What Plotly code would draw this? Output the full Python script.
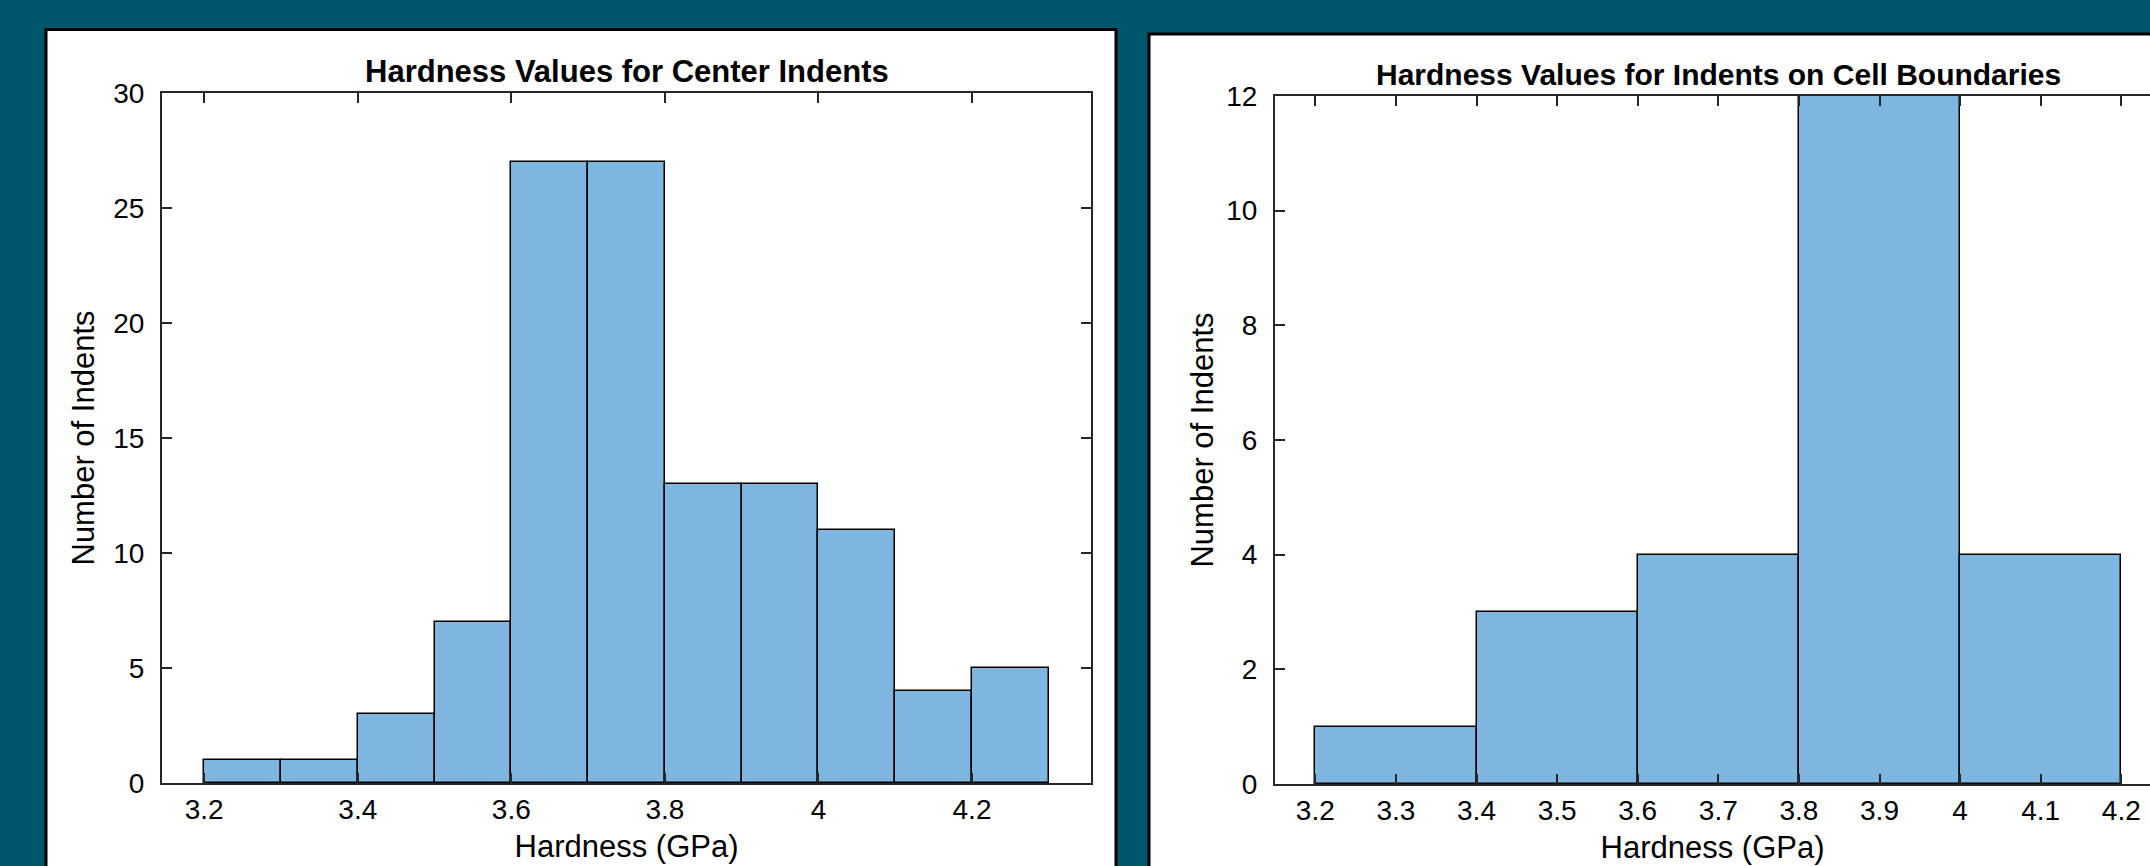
import plotly.graph_objects as go

# ---------------- data ----------------
center_edges = [3.2, 3.3, 3.4, 3.5, 3.6, 3.7, 3.8, 3.9, 4.0, 4.1, 4.2, 4.3]
center_counts = [1, 1, 3, 7, 27, 27, 13, 13, 11, 4, 5]
boundary_edges = [3.2, 3.4, 3.6, 3.8, 4.0, 4.2]
boundary_counts = [1, 3, 4, 12, 4]

center_xticks = [3.2, 3.4, 3.6, 3.8, 4.0, 4.2]
center_xticklabels = ["3.2", "3.4", "3.6", "3.8", "4", "4.2"]
center_yticks = [0, 5, 10, 15, 20, 25, 30]
boundary_xticks = [3.2, 3.3, 3.4, 3.5, 3.6, 3.7, 3.8, 3.9, 4.0, 4.1, 4.2]
boundary_xticklabels = ["3.2", "3.3", "3.4", "3.5", "3.6", "3.7", "3.8", "3.9", "4", "4.1", "4.2"]
boundary_yticks = [0, 2, 4, 6, 8, 10, 12]

title_left = "Hardness Values for Center Indents"
title_right = "Hardness Values for Indents on Cell Boundaries"
xlabel = "Hardness (GPa)"
ylabel = "Number of Indents"

# ---------------- style ----------------
W, H = 2150, 866
BG = "#00566a"
BAR = "#7eb6df"
AX = "#262626"
FONT = "Liberation Sans, Arial, Helvetica, sans-serif"


def px(x):
    return x / W


def py(y):
    return 1 - y / H


def mids(edges):
    return [(a + b) / 2 for a, b in zip(edges[:-1], edges[1:])]


def widths(edges):
    return [b - a for a, b in zip(edges[:-1], edges[1:])]


fig = go.Figure()
fig.add_trace(go.Bar(x=mids(center_edges), y=center_counts, width=widths(center_edges),
                     marker=dict(color=BAR, line=dict(color="black", width=1.5)),
                     xaxis="x", yaxis="y", showlegend=False, hoverinfo="x+y"))
fig.add_trace(go.Bar(x=mids(boundary_edges), y=boundary_counts, width=widths(boundary_edges),
                     marker=dict(color=BAR, line=dict(color="black", width=1.5)),
                     xaxis="x2", yaxis="y2", showlegend=False, hoverinfo="x+y"))

tick_font = dict(family=FONT, size=28, color="black")
lab_font = dict(family=FONT, size=31, color="black")

common = dict(showgrid=False, zeroline=False, showline=True, linecolor=AX, linewidth=2,
              ticks="inside", ticklen=10, tickwidth=1.5, tickcolor=AX, tickfont=tick_font,
              automargin=False)

# left axes: 162..1091 px, 93..783 px
L_x0, L_x1, L_y0, L_y1 = 162, 1091, 93, 783
# right axes: 1275..(beyond edge) px, 96..784 px
R_x0, R_y0, R_y1 = 1275, 96, 784
r_ppu = 806.0  # pixels per GPa on right panel
r_lo = 3.15
r_hi = r_lo + (W - R_x0) / r_ppu

fig.update_layout(
    width=W, height=H, margin=dict(l=0, r=0, t=0, b=0, autoexpand=False),
    paper_bgcolor=BG, plot_bgcolor="white", bargap=0,
    font=dict(family=FONT, color="black"),
    xaxis=dict(domain=[px(L_x0), px(L_x1)], anchor="y", range=[3.145, 4.355],
               tickvals=center_xticks, ticktext=center_xticklabels, mirror="ticks",
               ticklabelstandoff=0,
               title=dict(text=xlabel, font=lab_font, standoff=12), **common),
    yaxis=dict(domain=[py(L_y1), py(L_y0)], anchor="x", range=[0, 30],
               tickvals=center_yticks, mirror="ticks", ticklabelstandoff=10,
               title=dict(text=ylabel, font=lab_font, standoff=9), **common),
    xaxis2=dict(domain=[px(R_x0), 1.0], anchor="y2", range=[r_lo, r_hi],
                tickvals=boundary_xticks, ticktext=boundary_xticklabels, mirror="ticks",
                ticklabelstandoff=0,
                title=dict(text=xlabel, font=lab_font, standoff=12), **common),
    yaxis2=dict(domain=[py(R_y1), py(R_y0)], anchor="x2", range=[0, 12],
                tickvals=boundary_yticks, mirror=False, ticklabelstandoff=10,
                title=dict(text=ylabel, font=lab_font, standoff=3), **common),
)

# white panels with dark border
fig.add_shape(type="rect", xref="paper", yref="paper", layer="below",
              x0=px(46), x1=px(1116), y0=py(H + 10), y1=py(29.5),
              fillcolor="white", line=dict(color="black", width=3))
fig.add_shape(type="rect", xref="paper", yref="paper", layer="below",
              x0=px(1149), x1=px(W + 10), y0=py(H + 10), y1=py(34),
              fillcolor="white", line=dict(color="black", width=3))

# titles
fig.add_annotation(text="<b>" + title_left + "</b>", xref="paper", yref="paper",
                   x=px((L_x0 + L_x1) / 2), y=py(71), xanchor="center", yanchor="middle",
                   showarrow=False, font=dict(family=FONT, size=31, color="black"))
fig.add_annotation(text="<b>" + title_right + "</b>", xref="paper", yref="paper",
                   x=px(R_x0 + 1.1 * r_ppu / 2), y=py(75), xanchor="center", yanchor="middle",
                   showarrow=False, font=dict(family=FONT, size=30, color="black"))

fig.write_html(
    "out.html",
    config={"displayModeBar": False},
    post_script="document.body.style.margin='0px';document.body.style.background='" + BG + "';",
)
